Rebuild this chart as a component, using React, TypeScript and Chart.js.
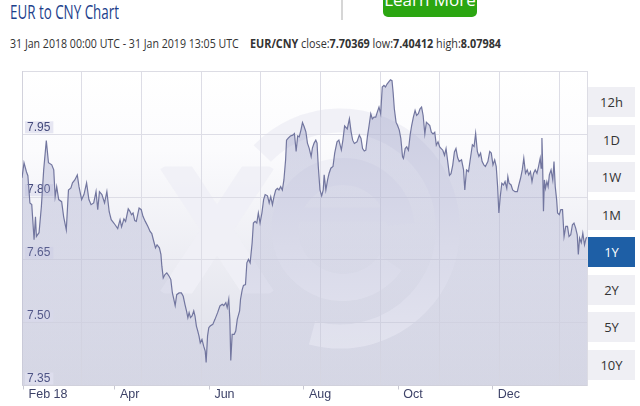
import React, { useEffect, useLayoutEffect, useRef, useState } from 'react';
import { Chart, registerables } from 'chart.js';

Chart.register(...registerables);

// ---- data (day offset from 31 Jan 2018, EUR/CNY rate) ----
const days: number[] = [
  0, 1.3, 2.9, 3.8, 5.1, 6.3, 7.8, 8.7, 9.3, 11.0, 12.5, 14.0, 15.7, 17.1, 19.2, 20.5, 21.4, 22.4, 23.7, 25.6,
  26.9, 28.6, 30.0, 31.6, 32.6, 34.1, 35.7, 36.8, 38.5, 40.0, 41.7, 43.2, 44.6, 46.3, 47.8, 48.9, 50.0, 51.6, 53.3, 54.8,
  56.3, 57.6, 58.7, 60.1, 61.8, 63.3, 64.3, 65.8, 66.9, 68.6, 69.7, 70.7, 71.7, 72.8, 73.8, 75.6, 77.0, 78.1, 79.6, 81.3,
  82.7, 83.8, 85.1, 86.2, 87.2, 88.7, 89.7, 90.3, 91.2, 92.3, 93.5, 95.0, 96.1, 97.1, 97.8, 98.9, 99.9, 101.4, 102.9, 104.1,
  105.2, 106.2, 107.1, 107.9, 108.8, 109.8, 110.9, 111.7, 112.6, 113.5, 114.3, 115.1, 116.2, 117.3, 118.3, 118.9, 119.8, 120.6, 121.5, 123.2,
  124.6, 126.3, 127.8, 129.3, 130.3, 131.6, 132.5, 133.5, 134.2, 134.8, 135.7, 137.0, 138.0, 139.0, 140.5, 141.1, 142.2, 143.0, 144.3, 145.2,
  146.2, 147.3, 148.6, 149.4, 150.5, 151.6, 152.6, 153.7, 154.9, 156.0, 157.0, 158.5, 159.6, 160.6, 161.7, 162.7, 163.8, 164.9, 165.9, 167.0,
  168.1, 169.1, 170.2, 170.8, 171.9, 173.3, 174.8, 175.9, 177.0, 178.0, 179.0, 180.1, 181.1, 182.2, 183.3, 184.3, 185.4, 186.7, 187.5, 188.6,
  189.7, 190.5, 191.3, 192.4, 193.5, 194.5, 195.1, 196.2, 197.3, 198.3, 199.4, 200.8, 201.9, 203.4, 204.6, 206.2, 207.2, 208.3, 210.0, 211.4,
  212.5, 213.5, 214.6, 216.3, 217.8, 218.9, 219.9, 221.0, 222.0, 223.0, 224.1, 225.2, 226.2, 227.3, 228.4, 229.4, 230.5, 231.6, 232.6, 233.7,
  234.7, 235.7, 236.8, 237.9, 238.9, 239.6, 240.4, 241.5, 242.5, 243.6, 244.6, 245.7, 246.3, 247.4, 248.4, 249.5, 250.6, 251.6, 252.7, 253.8,
  254.8, 255.9, 257.0, 258.0, 259.0, 260.1, 261.1, 262.2, 263.3, 264.3, 265.4, 266.5, 267.5, 268.6, 269.7, 270.7, 271.7, 272.8, 273.8, 274.9,
  276.0, 277.0, 278.1, 279.2, 280.2, 281.3, 282.3, 283.8, 285.1, 285.9, 287.0, 288.3, 289.7, 290.8, 291.9, 292.9, 294.0, 295.0, 296.1, 297.1,
  298.2, 299.2, 300.8, 302.0, 303.0, 304.1, 305.2, 306.2, 307.1, 307.9, 308.8, 309.8, 310.9, 311.9, 313.0, 313.7, 314.5, 315.8, 316.8, 318.3,
  319.8, 320.8, 321.9, 323.0, 324.0, 325.1, 326.2, 327.2, 328.3, 329.3, 330.3, 331.4, 332.5, 333.5, 334.6, 335.2, 335.7, 336.1, 336.7, 337.3,
  338.0, 338.9, 339.7, 340.5, 341.6, 342.7, 343.5, 344.3, 345.2, 345.8, 346.9, 347.9, 349.0, 350.0, 351.1, 352.2, 353.2, 354.3, 355.4, 356.4,
  357.5, 358.5, 359.2, 360.0, 361.1, 362.1, 363.2, 364.2, 365.0,
];

const rates: number[] = [
  7.846, 7.882, 7.860, 7.851, 7.786, 7.782, 7.698, 7.753, 7.706, 7.715, 7.777, 7.865, 7.935, 7.882, 7.877, 7.865, 7.801, 7.825, 7.794, 7.789,
  7.753, 7.722, 7.817, 7.822, 7.834, 7.841, 7.853, 7.825, 7.794, 7.806, 7.834, 7.794, 7.782, 7.786, 7.813, 7.770, 7.813, 7.806, 7.786, 7.813,
  7.765, 7.746, 7.741, 7.734, 7.725, 7.746, 7.729, 7.748, 7.742, 7.772, 7.766, 7.758, 7.762, 7.744, 7.742, 7.774, 7.770, 7.754, 7.742, 7.730,
  7.718, 7.713, 7.694, 7.679, 7.686, 7.679, 7.663, 7.635, 7.607, 7.615, 7.619, 7.611, 7.603, 7.571, 7.560, 7.541, 7.567, 7.571, 7.571, 7.563,
  7.544, 7.528, 7.512, 7.524, 7.512, 7.516, 7.528, 7.516, 7.492, 7.480, 7.468, 7.452, 7.460, 7.444, 7.432, 7.405, 7.468, 7.488, 7.492, 7.496,
  7.508, 7.524, 7.540, 7.544, 7.541, 7.548, 7.536, 7.556, 7.508, 7.410, 7.472, 7.472, 7.480, 7.508, 7.528, 7.556, 7.579, 7.589, 7.591, 7.643,
  7.651, 7.643, 7.691, 7.738, 7.742, 7.738, 7.762, 7.738, 7.762, 7.794, 7.806, 7.803, 7.786, 7.801, 7.782, 7.801, 7.817, 7.821, 7.817, 7.825,
  7.817, 7.841, 7.889, 7.936, 7.941, 7.946, 7.948, 7.952, 7.909, 7.946, 7.944, 7.960, 7.978, 7.968, 7.956, 7.929, 7.917, 7.897, 7.917, 7.929,
  7.936, 7.929, 7.873, 7.817, 7.803, 7.817, 7.853, 7.817, 7.841, 7.857, 7.869, 7.873, 7.905, 7.932, 7.936, 7.913, 7.936, 7.970, 7.963, 7.987,
  7.956, 7.936, 7.928, 7.932, 7.948, 7.940, 7.916, 7.910, 7.912, 7.944, 7.971, 7.999, 7.987, 7.991, 7.991, 8.003, 8.015, 7.999, 8.063, 8.067,
  8.063, 8.070, 8.075, 8.080, 8.078, 8.051, 8.011, 7.979, 7.971, 7.960, 7.940, 7.896, 7.892, 7.916, 7.920, 7.912, 7.948, 7.971, 7.991, 8.007,
  7.995, 7.999, 8.011, 8.015, 7.995, 7.951, 7.979, 7.975, 7.971, 7.955, 7.951, 7.955, 7.924, 7.932, 7.920, 7.916, 7.912, 7.900, 7.916, 7.884,
  7.852, 7.856, 7.876, 7.908, 7.916, 7.894, 7.885, 7.889, 7.865, 7.817, 7.865, 7.861, 7.897, 7.925, 7.921, 7.952, 7.909, 7.897, 7.905, 7.885,
  7.877, 7.873, 7.885, 7.909, 7.905, 7.877, 7.889, 7.873, 7.825, 7.762, 7.801, 7.833, 7.829, 7.837, 7.821, 7.849, 7.833, 7.829, 7.817, 7.813,
  7.813, 7.829, 7.845, 7.865, 7.893, 7.857, 7.865, 7.853, 7.861, 7.837, 7.857, 7.865, 7.857, 7.873, 7.893, 7.869, 7.941, 7.889, 7.766, 7.841,
  7.821, 7.837, 7.825, 7.853, 7.865, 7.841, 7.885, 7.825, 7.794, 7.762, 7.758, 7.770, 7.770, 7.706, 7.730, 7.730, 7.706, 7.710, 7.734, 7.738,
  7.726, 7.710, 7.663, 7.702, 7.691, 7.714, 7.686, 7.702, 7.704,
];

const monthDays: number[] = [1, 60, 121, 182, 243, 304];
const monthLabels: string[] = ['Feb 18', 'Apr', 'Jun', 'Aug', 'Oct', 'Dec'];
const yTicks: number[] = [7.35, 7.5, 7.65, 7.8, 7.95];
const yMin = 7.35;
const yMax = 8.1;
const dayMax = 365;
const ranges: string[] = ['12h', '1D', '1W', '1M', '1Y', '2Y', '5Y', '10Y'];
const activeRange = '1Y';

function FitText({ width, style, children }: { width: number; style?: React.CSSProperties; children: React.ReactNode }) {
  const ref = useRef<HTMLSpanElement>(null);
  const [sx, setSx] = useState(1);
  useLayoutEffect(() => {
    if (ref.current) {
      const w = ref.current.offsetWidth;
      if (w > 0) setSx(width / w);
    }
  }, [width]);
  return (
    <span
      ref={ref}
      style={{
        display: 'inline-block',
        whiteSpace: 'nowrap',
        transform: `scaleX(${sx})`,
        transformOrigin: 'left center',
        ...style,
      }}
    >
      {children}
    </span>
  );
}

// background gradient + faint "xe" watermark, drawn beneath grid and data
const bgPlugin = {
  id: 'bgGradient',
  beforeDraw(chart: any) {
    const { ctx, chartArea: a } = chart;
    if (!a) return;
    const g = ctx.createLinearGradient(0, a.top, 0, a.bottom);
    g.addColorStop(0, '#ffffff');
    g.addColorStop(0.25, '#fbfbfd');
    g.addColorStop(1, '#dcdde8');
    ctx.save();
    ctx.fillStyle = g;
    ctx.fillRect(a.left, a.top, a.right - a.left, a.bottom - a.top);

    ctx.beginPath();
    ctx.rect(a.left, a.top, a.right - a.left, a.bottom - a.top);
    ctx.clip();
    const wm = 'rgba(240,240,246,0.9)';
    ctx.strokeStyle = wm;
    ctx.fillStyle = wm;
    // outer ring
    const rcx = a.left + 318;
    const rcy = a.top + 157;
    ctx.lineWidth = 24;
    ctx.lineCap = 'butt';
    ctx.beginPath();
    ctx.arc(rcx, rcy, 108, (-136 * Math.PI) / 180, (105 * Math.PI) / 180, false);
    ctx.stroke();
    // "e"
    const ecx = a.left + 321;
    const ecy = a.top + 158;
    ctx.lineWidth = 27;
    ctx.beginPath();
    ctx.arc(ecx, ecy, 58, (-5 * Math.PI) / 180, (35 * Math.PI) / 180, true);
    ctx.stroke();
    ctx.fillRect(ecx - 60, ecy - 22, 120, 14);
    // "x"
    ctx.save();
    ctx.beginPath();
    ctx.rect(a.left + 130, a.top + 95, 140, 127);
    ctx.clip();
    ctx.lineWidth = 28;
    ctx.beginPath();
    ctx.moveTo(a.left + 150, a.top + 90);
    ctx.lineTo(a.left + 240, a.top + 227);
    ctx.moveTo(a.left + 240, a.top + 90);
    ctx.lineTo(a.left + 150, a.top + 227);
    ctx.stroke();
    ctx.restore();
    ctx.restore();
  },
};

function RateChart() {
  const canvasRef = useRef<HTMLCanvasElement>(null);
  useEffect(() => {
    if (!canvasRef.current) return;
    const points = days.map((d, i) => ({ x: d, y: rates[i] }));
    const gridStep = 38.55;
    const chart = new Chart(canvasRef.current, {
      type: 'line',
      data: {
        datasets: [
          {
            data: points,
            borderColor: '#72769f',
            borderWidth: 1.2,
            pointRadius: 0,
            tension: 0,
            fill: 'start',
            backgroundColor: (c: any) => {
              const a = c.chart.chartArea;
              if (!a) return 'rgba(150,154,195,0.35)';
              const g = c.chart.ctx.createLinearGradient(0, a.top, 0, a.bottom);
              g.addColorStop(0, 'rgba(150,154,195,0.45)');
              g.addColorStop(1, 'rgba(150,154,195,0.1)');
              return g;
            },
          },
        ],
      },
      options: {
        animation: false,
        responsive: false,
        devicePixelRatio: 1,
        layout: { padding: { left: 12, top: 11.5, right: 0.7, bottom: 0.5 } },
        plugins: { legend: { display: false }, tooltip: { enabled: false } },
        scales: {
          x: {
            type: 'linear',
            position: 'bottom',
            min: 0,
            max: dayMax,
            afterBuildTicks: (s: any) => {
              s.ticks = monthDays.map((v) => ({ value: v }));
            },
            afterFit: (s: any) => {
              s.height = 20;
            },
            ticks: {
              autoSkip: false,
              maxRotation: 0,
              align: 'start',
              labelOffset: 5,
              padding: -1.5,
              color: '#3d4268',
              font: { family: '"Liberation Sans", Arial, sans-serif', size: 12.5, lineHeight: 1 },
              callback: (v: any, i: number) => monthLabels[i],
            },
            grid: { drawOnChartArea: false, drawTicks: true, tickLength: 4, color: '#c8c8d2' },
            border: { display: true, color: '#d2d2dc', width: 1 },
          },
          xg: {
            type: 'linear',
            position: 'top',
            min: 0,
            max: dayMax,
            afterBuildTicks: (s: any) => {
              const t: any[] = [];
              for (let d = gridStep; d < dayMax - 1; d += gridStep) t.push({ value: d });
              s.ticks = t;
            },
            ticks: { display: false },
            grid: { drawTicks: false, color: '#dddde6', lineWidth: 1 },
            border: { display: true, color: '#dcdce4', width: 1 },
          },
          y: {
            type: 'linear',
            position: 'left',
            min: yMin,
            max: yMax,
            afterBuildTicks: (s: any) => {
              s.ticks = yTicks.map((v) => ({ value: v }));
            },
            ticks: {
              mirror: true,
              padding: 5,
              labelOffset: -7,
              color: '#444a7c',
              font: { family: '"Liberation Sans", Arial, sans-serif', size: 12, lineHeight: 1 },
              showLabelBackdrop: true,
              backdropColor: '#e6e6f2',
              backdropPadding: { top: 0, bottom: 0, left: 2, right: 3 },
              callback: (v: any) => Number(v).toFixed(2),
            },
            grid: { drawTicks: false, color: '#dddde6', lineWidth: 1 },
            border: { display: true, color: '#d2d2dc', width: 1 },
          },
          yr: {
            type: 'linear',
            position: 'right',
            min: yMin,
            max: yMax,
            ticks: { display: false },
            grid: { drawOnChartArea: false, drawTicks: false },
            border: { display: true, color: '#dcdce4', width: 1 },
          },
        },
      } as any,
      plugins: [bgPlugin],
    });
    return () => chart.destroy();
  }, []);
  return (
    <canvas
      ref={canvasRef}
      width={588}
      height={346}
      style={{ position: 'absolute', left: 0, top: 60, width: 588, height: 346 }}
    />
  );
}

export default function App() {
  const sans = '"Open Sans", "Noto Sans", sans-serif';
  return (
    <div
      style={{
        position: 'absolute',
        left: 0,
        top: 0,
        width: 640,
        height: 406,
        background: '#ffffff',
        overflow: 'hidden',
        fontFamily: sans,
      }}
    >
      <div style={{ position: 'absolute', left: 10, top: 2, fontSize: 20, lineHeight: '20px', color: '#1d3f8c' }}>
        <FitText width={109}>EUR to CNY Chart</FitText>
      </div>
      <div style={{ position: 'absolute', left: 341, top: 0, width: 2, height: 20, background: '#d6d6d6' }} />
      <div
        style={{
          position: 'absolute',
          left: 383,
          top: -18,
          width: 94,
          height: 35,
          background: '#2ba611',
          borderRadius: 5,
          color: '#ffffff',
          fontSize: 17,
          lineHeight: '35px',
          textAlign: 'center',
        }}
      >
        Learn More
      </div>
      <div style={{ position: 'absolute', left: 10, top: 36.5, fontSize: 12.5, lineHeight: '14px', color: '#333333' }}>
        <FitText width={229}>31 Jan 2018 00:00 UTC - 31 Jan 2019 13:05 UTC</FitText>
      </div>
      <div style={{ position: 'absolute', left: 250, top: 36.5, fontSize: 12.5, lineHeight: '14px', color: '#333333' }}>
        <FitText width={251}>
          <b>EUR/CNY</b> close:<b>7.70369</b> low:<b>7.40412</b> high:<b>8.07984</b>
        </FitText>
      </div>
      <RateChart />
      {ranges.map((r, i) => {
        const active = r === activeRange;
        return (
          <div
            key={r}
            style={{
              position: 'absolute',
              left: 588,
              top: 87 + i * 37.5,
              width: 47,
              height: 30,
              background: active ? '#1e5fa6' : '#efeff4',
              color: active ? '#ffffff' : '#333333',
              fontSize: 13,
              lineHeight: '30px',
              textAlign: 'center',
            }}
          >
            {r}
          </div>
        );
      })}
    </div>
  );
}
